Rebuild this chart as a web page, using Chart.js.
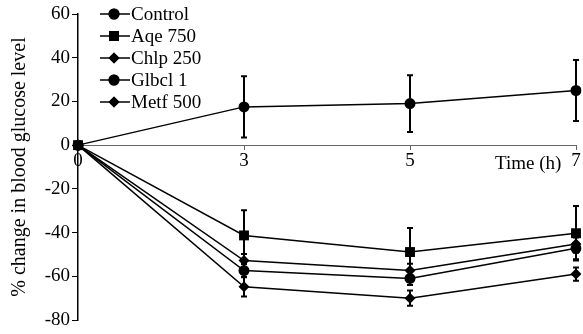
<!DOCTYPE html>
<html>
<head>
<meta charset="utf-8">
<script src="https://cdn.jsdelivr.net/npm/chart.js@4"></script>
<style>
  html, body { margin: 0; padding: 0; background: #fff; }
  #wrap { width: 583px; height: 334px; }
</style>
</head>
<body>
<div id="wrap"><canvas id="c"></canvas></div>
<script>
/* ── Data ─────────────────────────────────────────────── */
const timeLabels = ['0', '3', '5', '7'];
const yTicks     = [-80, -60, -40, -20, 0, 20, 40, 60];

const seriesNames  = ['Control', 'Aqe 750', 'Chlp 250', 'Glbcl 1', 'Metf 500'];
const seriesStyles = ['circle', 'rect', 'rectRot', 'circle', 'rectRot'];

const control = [0, 17.5, 19, 25];
const aqe750  = [0, -41.3, -48.9, -40.3];
const chlp250 = [0, -52.8, -57.3, -45.2];
const glbcl1  = [0, -57.4, -61, -47.2];
const metf500 = [0, -64.8, -70, -59];

const controlErr = [0, 14, 13, 14];
const aqe750Err  = [0, 11.5, 11, 12.5];
const chlp250Err = [0, 3, 3, 4];
const glbcl1Err  = [0, 3, 3, 5];
const metf500Err = [0, 4.5, 3.5, 3];

const seriesValues = [control, aqe750, chlp250, glbcl1, metf500];
const seriesErrors = [controlErr, aqe750Err, chlp250Err, glbcl1Err, metf500Err];

const FONT = '"Liberation Serif", "Times New Roman", serif';
const markerRadius = s => (s === 'rect' ? 7 : 5.5);

/* ── Error bars + legend + time label ─────────────────── */
const extras = {
  id: 'extras',
  afterDatasetsDraw(chart) {
    const { ctx, scales: { x, y } } = chart;
    ctx.save();
    ctx.strokeStyle = '#000';
    ctx.lineWidth = 2;
    seriesValues.forEach((vals, d) => {
      vals.forEach((v, i) => {
        const e = seriesErrors[d][i];
        if (!e) return;
        const px = x.getPixelForValue(i);
        const yt = y.getPixelForValue(v + e);
        const yb = y.getPixelForValue(v - e);
        ctx.beginPath();
        ctx.moveTo(px, yt); ctx.lineTo(px, yb);
        ctx.moveTo(px - 3, yt); ctx.lineTo(px + 3, yt);
        ctx.moveTo(px - 3, yb); ctx.lineTo(px + 3, yb);
        ctx.stroke();
      });
    });

    /* legend, top-left */
    ctx.font = '19px ' + FONT;
    ctx.textBaseline = 'middle';
    ctx.fillStyle = '#000';
    seriesNames.forEach((name, i) => {
      const ly = 14 + i * 22;
      ctx.lineWidth = 1.5;
      ctx.beginPath();
      ctx.moveTo(100, ly); ctx.lineTo(130, ly);
      ctx.stroke();
      Chart.helpers.drawPoint(ctx, {
        pointStyle: seriesStyles[i],
        radius: markerRadius(seriesStyles[i]),
        rotation: 0, borderWidth: 0
      }, 114, ly);
      ctx.fill();
      ctx.fillText(name, 131, ly + 1);
    });

    /* x axis label */
    ctx.font = '19px ' + FONT;
    ctx.textAlign = 'left';
    ctx.fillText('Time (h)', 495, 164);
    ctx.restore();
  }
};

new Chart(document.getElementById('c'), {
  type: 'line',
  data: {
    labels: timeLabels,
    datasets: seriesNames.map((name, i) => ({
      label: name,
      data: seriesValues[i],
      borderColor: '#000',
      backgroundColor: '#000',
      borderWidth: 1.5,
      pointStyle: seriesStyles[i],
      pointRadius: markerRadius(seriesStyles[i]),
      pointBorderWidth: 0,
      tension: 0,
    })),
  },
  options: {
    responsive: true,
    maintainAspectRatio: false,
    animation: false,
    layout: { padding: { top: 14, right: 5, bottom: 14, left: 0 } },
    plugins: { legend: { display: false }, tooltip: { enabled: false } },
    scales: {
      x: {
        type: 'category',
        offset: false,
        position: { y: 0 },
        border: { color: '#666', width: 1 },
        grid: { drawOnChartArea: false, tickLength: 4, color: '#666' },
        ticks: {
          color: '#000', font: { family: FONT, size: 19 }, padding: 0,
          maxRotation: 0, autoSkip: false,
        },
      },
      y: {
        min: -80, max: 60,
        afterFit: s => { s.width = 78; },
        afterBuildTicks: s => { s.ticks = yTicks.map(v => ({ value: v })); },
        border: { color: '#000', width: 1.5 },
        grid: { drawOnChartArea: false, tickLength: 6, color: '#000' },
        ticks: { color: '#000', font: { family: FONT, size: 19 }, padding: 2 },
        title: {
          display: true,
          text: '% change in blood glucose level',
          color: '#000',
          font: { family: FONT, size: 20 },
          padding: { top: 8, bottom: 0 },
        },
      },
    },
  },
  plugins: [extras],
});
</script>
</body>
</html>
